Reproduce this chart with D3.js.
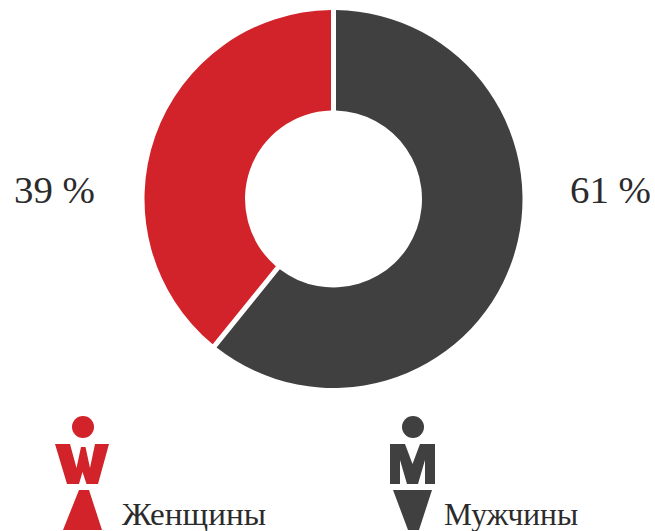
<!DOCTYPE html>
<html>
<head>
<meta charset="utf-8">
<script src="https://cdn.jsdelivr.net/npm/d3@7"></script>
<style>
body { margin: 0; background: #fff; }
text { font-family: "Liberation Serif", serif; fill: #2b2b2b; }
</style>
</head>
<body>
<div id="chart"></div>
<script>
const categories = ['Мужчины', 'Женщины'];
const shares = [61, 39];
const colors = ['#404040', '#d2232a'];

const width = 655, height = 531;
const svg = d3.select('#chart').append('svg')
    .attr('width', width)
    .attr('height', height)
    .style('display', 'block');

const center = [333.5, 199];
const radius = 189, innerRadius = 88.5;

// gap between slices stays parallel: padAngle * padRadius = 5px
const pie = d3.pie().sort(null).value(d => d).padAngle(0.05);
const arc = d3.arc().innerRadius(innerRadius).outerRadius(radius).padRadius(100);

svg.append('g')
    .attr('transform', `translate(${center})`)
    .selectAll('path')
    .data(pie(shares))
    .join('path')
    .attr('d', arc)
    .attr('fill', (d, i) => colors[i]);

// percent labels either side of the ring
const labelPos = [[570, 203], [14, 203]];
svg.selectAll('text.pct')
    .data(shares)
    .join('text')
    .attr('class', 'pct')
    .attr('x', (d, i) => labelPos[i][0])
    .attr('y', (d, i) => labelPos[i][1])
    .attr('font-size', 37)
    .attr('textLength', 81)
    .attr('lengthAdjust', 'spacingAndGlyphs')
    .text(d => `${d} %`);

// pictograms
const woman = svg.append('g').attr('fill', colors[1]);
woman.append('circle').attr('cx', 83).attr('cy', 427).attr('r', 11);
woman.append('path').attr('d', 'M55,444H70L76.5,468L81,447H85.5L90,468L95,444H109L98,484H86.5L82.5,472L79,484H67Z');
woman.append('path').attr('d', 'M79,490H89L102,530H63Z');

const man = svg.append('g').attr('fill', colors[0]);
man.append('circle').attr('cx', 413).attr('cy', 427).attr('r', 11);
man.append('path').attr('d', 'M390,444H405L412.5,464L420,444H435V484H425V460L418,484H407L400,460V484H390Z');
man.append('path').attr('d', 'M393,490H432L419,530H408Z');

const legendPos = [[444, 525], [122, 525]];
const legendLength = [134, 144];
svg.selectAll('text.legend')
    .data(categories)
    .join('text')
    .attr('class', 'legend')
    .attr('x', (d, i) => legendPos[i][0])
    .attr('y', (d, i) => legendPos[i][1])
    .attr('font-size', 32)
    .attr('textLength', (d, i) => legendLength[i])
    .attr('lengthAdjust', 'spacingAndGlyphs')
    .text(d => d);
</script>
</body>
</html>
